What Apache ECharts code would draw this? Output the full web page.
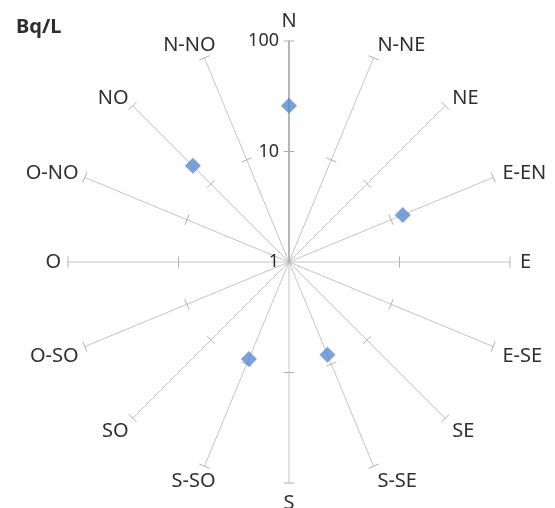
<!DOCTYPE html>
<html><head><meta charset="utf-8">
<script src="https://cdn.jsdelivr.net/npm/echarts@6/dist/echarts.min.js"></script>
<style>html,body{margin:0;padding:0;background:#fff}#c{width:555px;height:508px}</style>
</head><body><div id="c"></div>
<script>
const directions = ['N','N-NE','NE','E-EN','E','E-SE','SE','S-SE','S','S-SO','SO','O-SO','O','O-NO','NO','N-NO'];
const concentrations = [26, null, null, 13, null, null, null, 8.1, null, 8.9, null, null, null, null, 17, null];
const spokeTicks = [10, 100];
const unitLabel = 'Bq/L';

const FONT = '20px "Noto Sans", sans-serif';
const TEXT_COLOR = '#2e2e2e';
const SPOKE_COLOR = '#c4c4c4';

const scatterData = [];
concentrations.forEach((v, i) => { if (v != null) scatterData.push([v, i]); });
const tickData = [];
directions.forEach((d, i) => spokeTicks.forEach(t => tickData.push([t, i])));
const labelData = directions.map((d, i) => [100, i]);

function unitVec(params, api, r, a) {
  const cs = params.coordSys;
  const p = api.coord([r, a]);
  let dx = p[0] - cs.cx, dy = p[1] - cs.cy;
  const L = Math.hypot(dx, dy) || 1;
  return { p: p, ux: dx / L, uy: dy / L };
}

const chart = echarts.init(document.getElementById('c'));
chart.setOption({
  animation: false,
  title: {
    text: unitLabel, left: 11, top: 12,
    textStyle: { fontFamily: 'Noto Sans', fontSize: 20, fontWeight: 'bold', color: TEXT_COLOR }
  },
  polar: { center: [289, 262], radius: 221 },
  angleAxis: {
    type: 'category', data: directions, startAngle: 90, clockwise: true, boundaryGap: false,
    axisLine: { show: false }, axisTick: { show: false }, axisLabel: { show: false },
    splitLine: { show: true, lineStyle: { color: SPOKE_COLOR, width: 1 } },
    splitArea: { show: false }
  },
  radiusAxis: {
    type: 'log', logBase: 10, min: 1, max: 100,
    axisLine: { show: true, lineStyle: { color: '#a8a8a8', width: 1.5 } },
    axisTick: { show: false },
    splitLine: { show: false },
    axisLabel: { show: true, margin: 10, color: TEXT_COLOR, fontSize: 18, fontFamily: 'Noto Sans' }
  },
  series: [
    {
      type: 'custom', coordinateSystem: 'polar', silent: true, data: tickData, z: 3,
      renderItem: function (params, api) {
        const v = unitVec(params, api, api.value(0), api.value(1));
        const h = 5.5;
        return { type: 'line', shape: {
          x1: v.p[0] - v.uy * h, y1: v.p[1] + v.ux * h,
          x2: v.p[0] + v.uy * h, y2: v.p[1] - v.ux * h },
          style: { stroke: '#b0b0b0', lineWidth: 1 } };
      }
    },
    {
      type: 'custom', coordinateSystem: 'polar', silent: true, data: labelData, z: 4,
      renderItem: function (params, api) {
        const i = api.value(1);
        const v = unitVec(params, api, api.value(0), i);
        const m = 10;
        let x = v.p[0] + v.ux * m, y = v.p[1] + v.uy * m;
        let align = 'center', va = 'middle';
        if (v.ux > 0.15) align = 'left';
        else if (v.ux < -0.15) {
          align = 'right';
          x += 3 + (v.ux > -0.5 ? 12 : 0);
        }
        else va = v.uy < 0 ? 'bottom' : 'top';
        if (align !== 'center') y += v.uy > 0.1 ? 6 : (v.uy < -0.8 ? -3 : 0);
        return { type: 'text', x: x, y: y,
          style: { text: directions[i], font: FONT, fill: TEXT_COLOR, align: align, verticalAlign: va } };
      }
    },
    {
      type: 'scatter', coordinateSystem: 'polar', data: scatterData, z: 5,
      symbol: 'diamond', symbolSize: 16,
      itemStyle: { color: '#5A8AD0' }
    }
  ]
});
</script>
</body></html>
